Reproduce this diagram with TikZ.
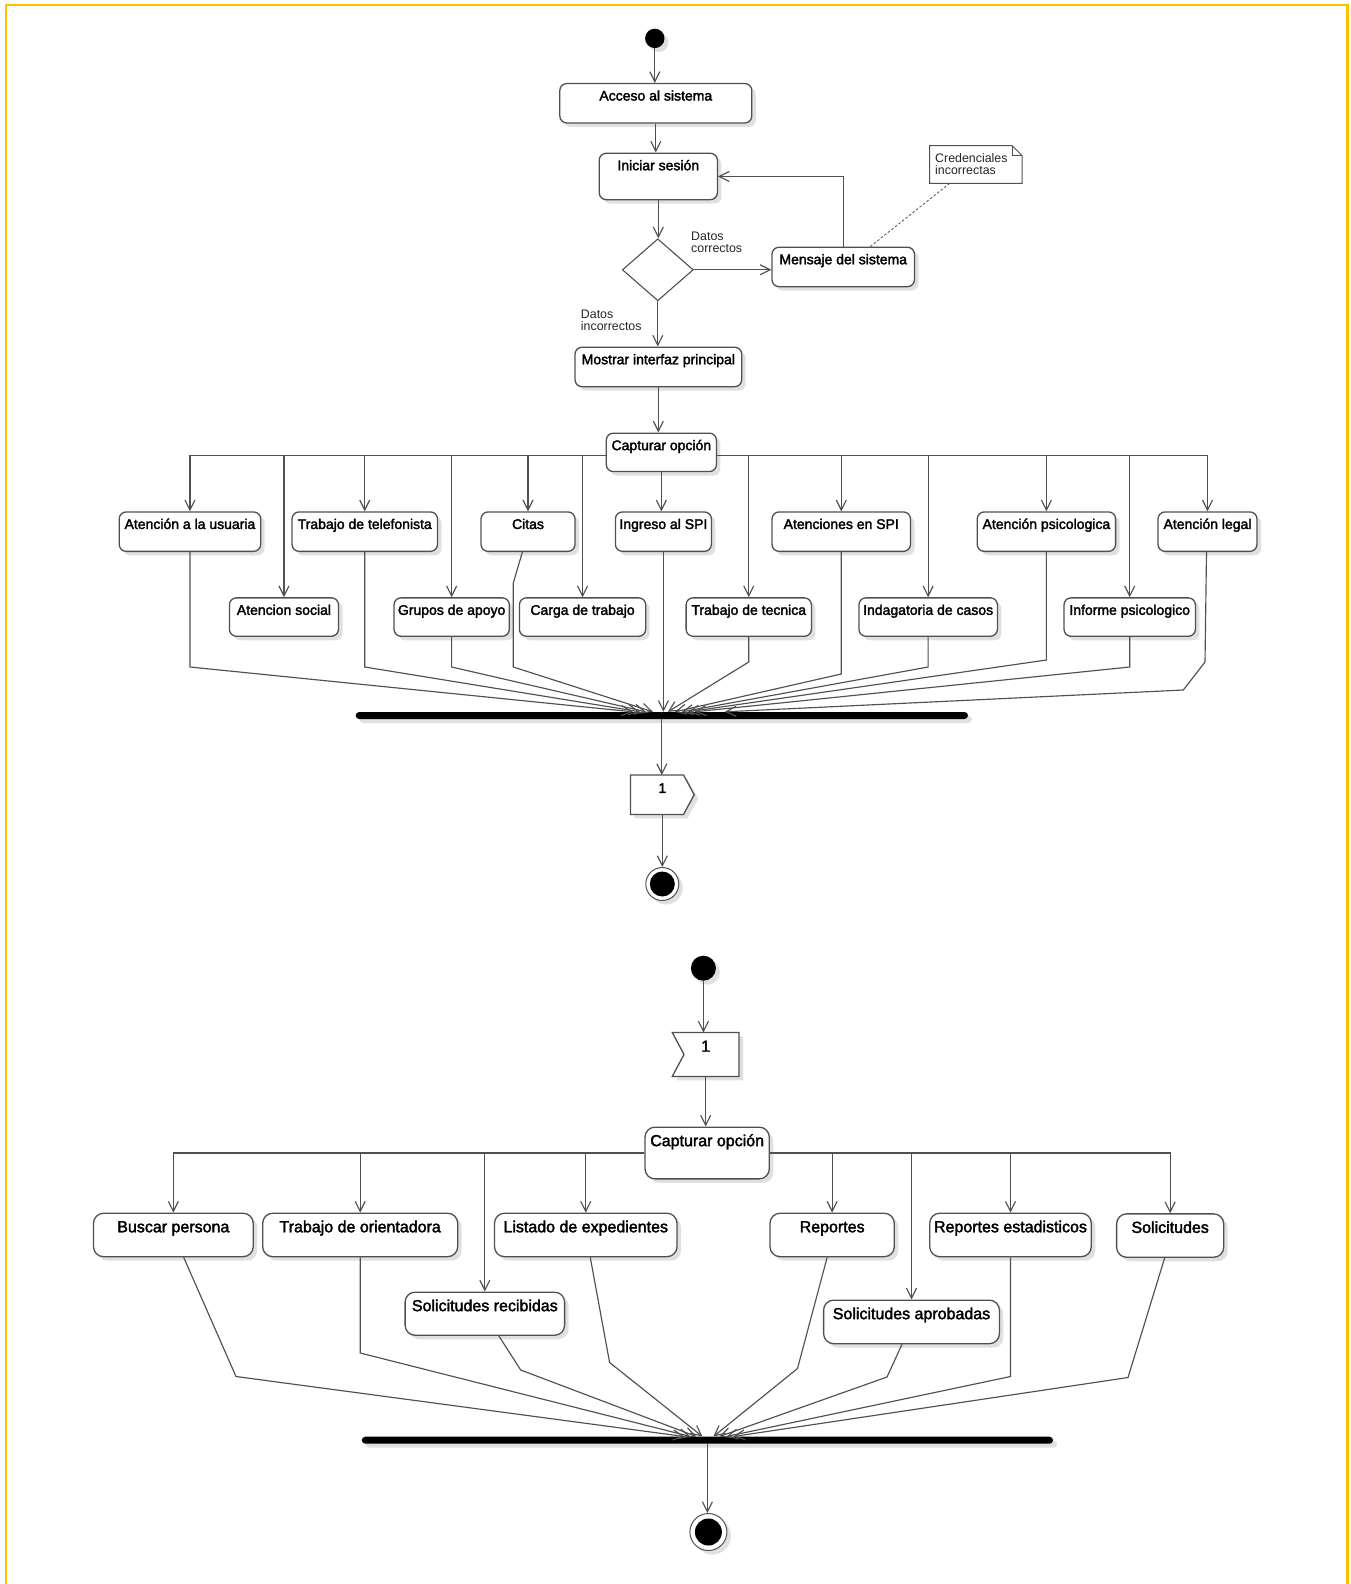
\documentclass[tikz,border=0pt]{standalone}
\usepackage{fontspec}
\setmainfont{Liberation Sans}
\newfontfamily\actfont[FakeBold=2.2]{Liberation Sans}
\usetikzlibrary{arrows.meta,calc,shadows,shapes.geometric,backgrounds}
\definecolor{ln}{HTML}{505050}
\definecolor{gold}{HTML}{FFC000}
\def\acttop{17}
\newcommand{\actbox}[7][]{%
  \pgfmathsetmacro{\abw}{#5-#3}%
  \pgfmathsetmacro{\abcx}{(#3+#5)/2}%
  \pgfmathsetmacro{\abd}{#6-#4-\acttop}%
  \node[act,#1,minimum width=\abw pt,text height=\acttop pt,text depth=\abd pt] (#2) at (\abcx,#4) {#7};}
\begin{document}
\begin{tikzpicture}[x=1pt,y=-1pt,
  arr/.style={draw=ln, line width=1.15pt, -{Straight Barb[length=10pt,width=10pt,line width=1.15pt]}},
  shad/.style={drop shadow={shadow xshift=4pt, shadow yshift=-4pt, opacity=0.12, fill=black}},
  act/.style={draw=ln, line width=1.3pt, fill=white, rounded corners=7pt, anchor=north,
    inner xsep=0pt, inner ysep=0pt, font=\actfont\fontsize{14}{16}\selectfont, shad},
  actB/.style={rounded corners=10pt, font=\actfont\fontsize{16}{18}\selectfont},
  start/.style={circle, fill=black, inner sep=0pt, shad},
  final/.style={circle, draw=ln, line width=1pt, fill=white, inner sep=0pt, shad,
    path picture={\fill[black] (path picture bounding box.center) circle[radius=#1];}},
  bar/.style={fill=black, rectangle, rounded corners=3.5pt, inner sep=0pt, minimum height=7pt, shad},
  sigtxt/.style={anchor=north, inner sep=0pt, font=\actfont\fontsize{14}{16}\selectfont},
  lbl/.style={font=\fontsize{12.4}{12.5}\selectfont, align=left, inner sep=0pt, anchor=north west, text=black!85}
]
\useasboundingbox (0,0) rectangle (1351,1584);
\begin{scope}[on background layer]
\fill[white] (0,0) rectangle (1351,1584);
\end{scope}
\draw[gold, line width=2.2pt] (6,1590) -- (6,5) -- (1347.5,5) -- (1347.5,1590);

% ---------------- top diagram ----------------
\node[start, minimum size=19.4pt] (init1) at (654.8,38.4) {};
\actbox{acceso}{559.8}{82.9}{751.8}{122.3}{Acceso al sistema}
\actbox{iniciar}{599.2}{152.6}{717.4}{199}{Iniciar sesión}
\node[diamond, draw=ln, line width=1.1pt, fill=white, minimum width=71pt, minimum height=62pt, inner sep=0pt] (dec) at (657.8,269.8) {};
\actbox{msg}{772}{246.6}{914.5}{286}{Mensaje del sistema}
\node[anchor=north west, inner sep=0pt, minimum width=91.9pt, minimum height=37.4pt] (note) at (929.7,145.5) {};
\draw[ln, line width=1pt, fill=white] (note.north west) -- ([xshift=-10pt]note.north east) -- ([yshift=-10pt]note.north east) -- (note.south east) -- (note.south west) -- cycle;
\draw[ln, line width=1pt] ([xshift=-10pt]note.north east) -- ([xshift=-10pt,yshift=-10pt]note.north east) -- ([yshift=-10pt]note.north east);
\node[lbl] (notetxt) at (935,153) {Credenciales\\incorrectas};
\node[lbl] (lblok) at (691,231.5) {Datos\\correctos};
\node[lbl] (lblko) at (580.7,309.5) {Datos\\incorrectos};
\actbox{mostrar}{575}{346.6}{741.7}{386}{Mostrar interfaz principal}
\actbox{capA}{606.3}{432.5}{716.4}{470.9}{Capturar opción}

\actbox{usuaria}{119.2}{511.3}{260.7}{550.7}{Atención a la usuaria}
\actbox{telefonista}{292}{511.3}{437.5}{550.7}{Trabajo de telefonista}
\actbox{citas}{481}{511.3}{575}{550.7}{Citas}
\actbox{ingreso}{615.4}{511.3}{711.4}{550.7}{Ingreso al SPI}
\actbox{atenciones}{772}{511.3}{910.5}{550.7}{Atenciones en SPI}
\actbox{psicologica}{977.2}{511.3}{1115.6}{550.7}{Atención psicologica}
\actbox{legal}{1158}{511.3}{1257}{550.7}{Atención legal}

\actbox{social}{229.4}{597.2}{338.5}{635.6}{Atencion social}
\actbox{grupos}{394}{597.2}{509.3}{635.6}{Grupos de apoyo}
\actbox{carga}{519.4}{597.2}{645.7}{635.6}{Carga de trabajo}
\actbox{tecnica}{686.1}{597.2}{811.4}{635.6}{Trabajo de tecnica}
\actbox{indagatoria}{858.9}{597.2}{997.4}{635.6}{Indagatoria de casos}
\actbox{informe}{1064}{597.2}{1195.4}{635.6}{Informe psicologico}

\node[bar, minimum width=612.3pt] (join1) at (661.85,715.5) {};
\node[sigtxt, minimum width=63.3pt, text height=17.7pt, text depth=21.3pt] (send1) at (662.35,775) {1};
\begin{scope}[on background layer]
\fill[black, opacity=0.12] ([shift={(4pt,-4pt)}]send1.north west) -- ([shift={(-6.7pt,-4pt)}]send1.north east) -- ([shift={(4pt,-4pt)}]send1.east) -- ([shift={(-6.7pt,-4pt)}]send1.south east) -- ([shift={(4pt,-4pt)}]send1.south west) -- cycle;
\draw[ln, line width=1.3pt, fill=white] (send1.north west) -- ([xshift=-10.7pt]send1.north east) -- (send1.east) -- ([xshift=-10.7pt]send1.south east) -- (send1.south west) -- cycle;
\end{scope}
\node[final=12.5pt, minimum size=33pt] (final1) at (662.3,884) {};

% connectors top
\draw[arr] (init1.south) -- (init1.south |- acceso.north);
\draw[arr] (acceso.south) -- (acceso.south |- iniciar.north);
\draw[arr] (iniciar.south) -- (iniciar.south |- dec.north);
\draw[arr] (dec.east) -- (dec.east -| msg.west);
\draw[arr] (msg.north) |- (iniciar.east);
\draw[ln, line width=0.8pt, dash pattern=on 2.5pt off 2pt] ([xshift=20pt]note.south west) -- ([xshift=27pt]msg.north);
\draw[arr] (dec.south) -- (dec.south |- mostrar.north);
\draw[arr] (mostrar.south) -- (mostrar.south |- capA.north);
\foreach \n in {usuaria,social,telefonista,grupos,citas,carga}{\draw[arr] ([yshift=-3pt]capA.west) -| (\n.north);}
\foreach \n in {tecnica,atenciones,indagatoria,psicologica,informe,legal}{\draw[arr] ([yshift=-3pt]capA.east) -| (\n.north);}
\draw[arr] (capA.south) -- (capA.south |- ingreso.north);

\draw[arr] (usuaria.south) -- (usuaria.south |- 0,667) -- ([xshift=-29pt]join1.north);
\draw[arr] (telefonista.south) -- (telefonista.south |- 0,667) -- ([xshift=-22pt]join1.north);
\draw[arr] (grupos.south) -- (grupos.south |- 0,667) -- ([xshift=-16pt]join1.north);
\draw[arr] ([xshift=-5.6pt]citas.south) -- (513.3,583) -- (513.3,667) -- ([xshift=-9pt]join1.north);
\draw[arr] (ingreso.south) -- (ingreso.south |- join1.north);
\draw[arr] (tecnica.south) -- (tecnica.south |- 0,662) -- ([xshift=6pt]join1.north);
\draw[arr] (atenciones.south) -- (atenciones.south |- 0,674) -- ([xshift=13pt]join1.north);
\draw[arr] (indagatoria.south) -- (indagatoria.south |- 0,667) -- ([xshift=20pt]join1.north);
\draw[arr] (psicologica.south) -- (psicologica.south |- 0,660) -- ([xshift=26pt]join1.north);
\draw[arr] (informe.south) -- (informe.south |- 0,667) -- ([xshift=33pt]join1.north);
\draw[arr] ([xshift=-1pt]legal.south) -- (1205,662) -- (1183.3,690) -- ([xshift=63pt]join1.north);
\draw[arr] (join1.south) -- (join1.south |- send1.north);
\draw[arr] (send1.south) -- (send1.south |- final1.north);

% ---------------- bottom diagram ----------------
\def\acttop{19}
\node[start, minimum size=25pt] (init2) at (703.4,968.2) {};
\node[sigtxt, font=\actfont\fontsize{16}{18}\selectfont, minimum width=66.3pt, text height=19pt, text depth=24.5pt] (recv1) at (705.65,1032.5) {1};
\begin{scope}[on background layer]
\fill[black, opacity=0.12] ([shift={(4pt,-4pt)}]recv1.north west) -- ([shift={(4pt,-4pt)}]recv1.north east) -- ([shift={(4pt,-4pt)}]recv1.south east) -- ([shift={(4pt,-4pt)}]recv1.south west) -- ([shift={(15.7pt,-4pt)}]recv1.west) -- cycle;
\draw[ln, line width=1.3pt, fill=white] (recv1.north west) -- (recv1.north east) -- (recv1.south east) -- (recv1.south west) -- ([xshift=11.7pt]recv1.west) -- cycle;
\end{scope}
\actbox[actB]{capB}{645}{1126.5}{769.3}{1178.2}{Capturar opción}

\actbox[actB]{buscar}{93.5}{1212.6}{253.2}{1256}{Buscar persona}
\actbox[actB]{orientadora}{262.7}{1212.6}{457.7}{1256}{Trabajo de orientadora}
\actbox[actB]{listado}{494.5}{1212.6}{677}{1256}{Listado de expedientes}
\actbox[actB]{reportes}{770}{1212.6}{894.3}{1256}{Reportes}
\actbox[actB]{estadisticos}{929.7}{1212.6}{1091.3}{1256}{Reportes estadisticos}
\actbox[actB]{solicitudes}{1116.6}{1213.2}{1223.7}{1256.6}{Solicitudes}
\actbox[actB]{recibidas}{405.1}{1291.5}{564.6}{1334.6}{Solicitudes recibidas}
\actbox[actB]{aprobadas}{823.6}{1299.5}{999.4}{1343}{Solicitudes aprobadas}

\node[bar, minimum width=691.2pt] (join2) at (707.4,1440.2) {};
\node[final=13.5pt, minimum size=37pt] (final2) at (708.4,1532) {};

% connectors bottom
\draw[arr] (init2.south) -- (init2.south |- recv1.north);
\draw[arr] (recv1.south) -- (recv1.south |- capB.north);
\foreach \n in {buscar,orientadora,recibidas,listado}{\draw[arr] (capB.west) -| (\n.north);}
\foreach \n in {reportes,aprobadas,estadisticos,solicitudes}{\draw[arr] (capB.east) -| (\n.north);}
\draw[arr] ([xshift=10.3pt]buscar.south) -- (236,1376.5) -- ([xshift=-23pt]join2.north);
\draw[arr] (orientadora.south) -- (orientadora.south |- 0,1353) -- ([xshift=-17pt]join2.north);
\draw[arr] ([xshift=14pt]recibidas.south) -- (520.7,1370) -- ([xshift=-11pt]join2.north);
\draw[arr] ([xshift=4.5pt]listado.south) -- (609.6,1362.5) -- ([xshift=-5pt]join2.north);
\draw[arr] ([xshift=-5pt]reportes.south) -- (797.5,1368.5) -- ([xshift=6pt]join2.north);
\draw[arr] ([xshift=-9.5pt]aprobadas.south) -- (887,1377) -- ([xshift=12pt]join2.north);
\draw[arr] (estadisticos.south) -- (estadisticos.south |- 0,1376.5) -- ([xshift=19pt]join2.north);
\draw[arr] ([xshift=-5.5pt]solicitudes.south) -- (1128,1377.5) -- ([xshift=26pt]join2.north);
\draw[arr] (join2.south) -- (join2.south |- final2.north);
\end{tikzpicture}
\end{document}
